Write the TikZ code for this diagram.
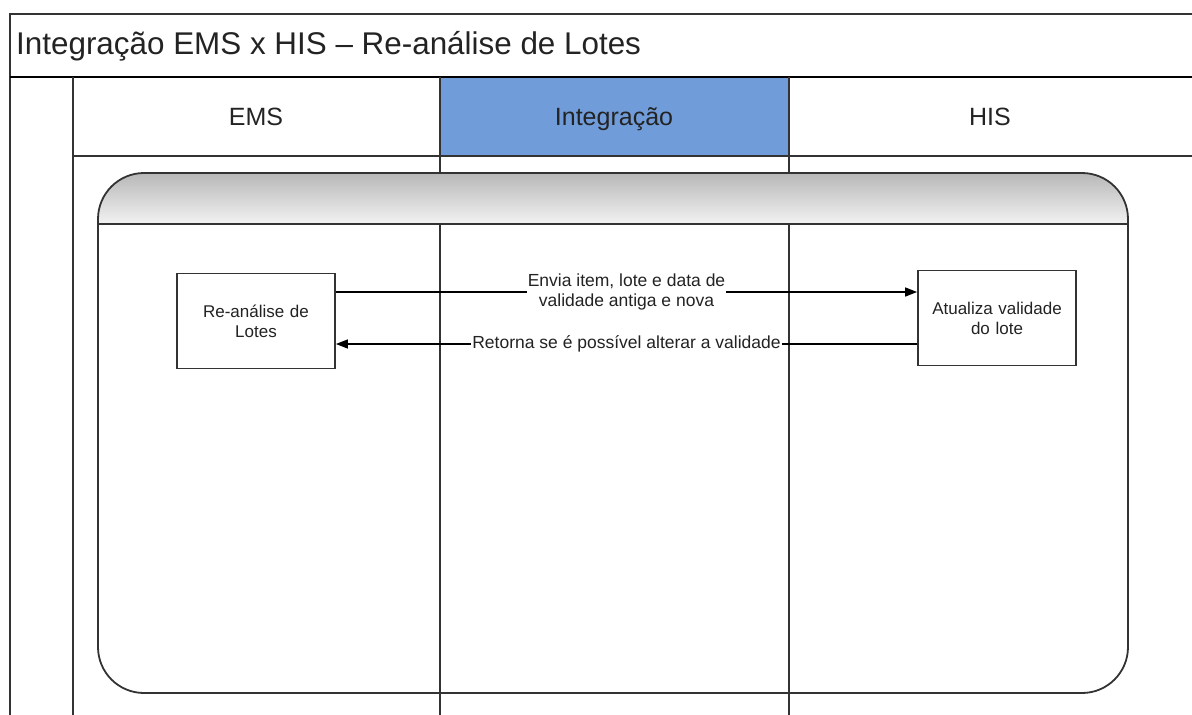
\documentclass[tikz,border=0pt]{standalone}
\usepackage{fontspec}
\setmainfont{Liberation Sans}
\usetikzlibrary{arrows.meta}
\definecolor{integblue}{RGB}{112,157,218}
\definecolor{texto}{RGB}{35,35,35}

\begin{document}
\begin{tikzpicture}[
	x=1pt, y=1pt,
	line/.style={draw=black!80, line width=1.8pt},
	header/.style={font=\fontsize{25}{30}\selectfont, text=texto, anchor=base},
	task/.style={
		rectangle,
		draw=black!80,
		line width=1.8pt,
		fill=white,
		minimum width=158pt,
		minimum height=95pt,
		text width=150pt,
		align=center,
		font=\fontsize{17}{20}\selectfont,
		text=texto
	},
	flow/.style={-{Triangle[length=12pt,width=9pt]}, line width=1.4pt, black},
	msg/.style={fill=white, align=center, inner sep=1pt, font=\fontsize{17.5}{20}\selectfont, text=texto}
]
\useasboundingbox (0,0) rectangle (1192,-715);

% Raias e cabeçalho
\fill[integblue] (440,-77) rectangle (789,-156);
\draw[line] (10,-715) -- (10,-14) -- (1200,-14);
\draw[black, line width=2.6pt] (10,-77) -- (1200,-77);
\draw[line] (73,-77) -- (73,-715);
\draw[line] (73,-156) -- (1200,-156);
\draw[line] (440,-77) -- (440,-715);
\draw[line] (789,-77) -- (789,-715);

% Título
\node[font=\fontsize{31.4}{36}\selectfont, text=texto, anchor=west, inner sep=0pt] (titulo) at (16,-46) {Integração EMS x HIS – Re-análise de Lotes};

% Nomes das raias
\node[header] (ems) at (256,-125) {EMS};
\node[header] (integracao) at (614,-125) {Integração};
\node[header] (his) at (990,-125) {HIS};

% Grupo arredondado
\fill[top color=black!28, bottom color=black!5] (98,-224) -- (98,-219) arc[start angle=180, end angle=90, radius=46] -- (1082,-173) arc[start angle=90, end angle=0, radius=46] -- (1128,-224) -- cycle;
\draw[line, rounded corners=46pt] (98,-173) rectangle (1128,-693);
\draw[line] (98,-224) -- (1128,-224);

% Tarefas
\node[task] (reanalise) at (256,-321) {Re-análise de\\Lotes};
\node[task] (atualiza) at (997,-318) {Atualiza validade\\do lote};

% Mensagens
\draw[flow] ([yshift=29pt]reanalise.east) -- node[msg] (envia) {Envia item, lote e data de\\validade antiga e nova} ([yshift=26pt]atualiza.west);
\draw[flow] ([yshift=-26pt]atualiza.west) -- node[msg] (retorna) {Retorna se é possível alterar a validade} ([yshift=-23pt]reanalise.east);

\end{tikzpicture}
\end{document}
